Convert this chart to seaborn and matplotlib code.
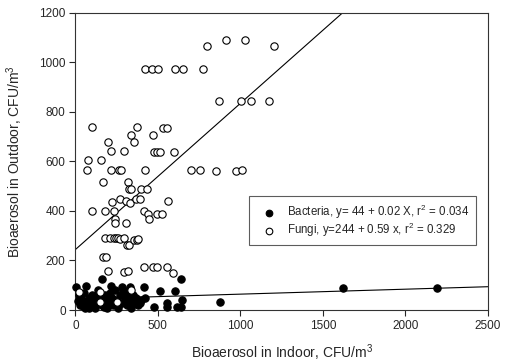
import numpy as np
import pandas as pd
import matplotlib
matplotlib.use('Agg')
import matplotlib.pyplot as plt
import seaborn as sns

# fungi points (indoor, outdoor)
fungi_x = [99, 79, 71, 155, 198, 218, 170, 99, 180, 234, 218, 264, 276, 293, 337,
           353, 371, 317, 325, 337, 268, 220, 309, 331, 367, 391, 397, 436, 420, 470,
           530, 553, 476, 496, 512, 599, 418, 442, 448, 492, 527, 559, 238, 240, 305,
           182, 210, 236, 246, 256, 270, 297, 313, 325, 355, 371, 377, 165, 184, 198,
           297, 317, 414, 470, 492, 553, 589, 422, 464, 498, 601, 652, 771, 797, 910,
           1029, 1203, 868, 1001, 1063, 1172, 700, 757, 854, 971, 1009, 24, 149, 337,
           149, 254]
fungi_y = [740, 607, 566, 607, 677, 643, 518, 401, 401, 401, 566, 566, 566, 643, 706,
           677, 740, 518, 488, 488, 448, 435, 440, 432, 448, 448, 488, 488, 566, 706,
           733, 733, 636, 636, 636, 636, 401, 387, 367, 387, 387, 440, 367, 350, 350,
           292, 292, 292, 292, 292, 287, 292, 264, 264, 281, 281, 288, 215, 215, 159,
           152, 159, 175, 175, 175, 175, 151, 973, 973, 973, 973, 973, 973, 1064, 1091,
           1091, 1064, 845, 845, 845, 845, 566, 566, 560, 560, 566, 74, 74, 81,
           34, 34]

# bacteria points
bact_x = [4, 65, 161, 218, 285, 331, 416, 515, 605, 638, 646, 615, 638, 553, 553,
          478, 424, 391, 874, 1620, 2193, 20, 30, 40, 50, 60, 70, 80, 90, 100,
          110, 120, 130, 140, 150, 160, 170, 180, 190, 200, 210, 220, 230, 240, 250,
          260, 270, 280, 290, 300, 310, 320, 330, 340, 350, 360, 370, 380, 400, 15,
          45, 85, 125, 175, 205, 265, 305, 345]
bact_y = [91, 97, 125, 97, 91, 91, 91, 78, 78, 125, 40, 13, 13, 27, 13,
          13, 50, 27, 34, 89, 89, 60, 20, 40, 70, 10, 30, 50, 20, 60,
          40, 10, 30, 80, 50, 20, 40, 60, 10, 30, 70, 50, 20, 80, 40,
          10, 60, 30, 80, 50, 20, 70, 40, 10, 60, 30, 50, 20, 40, 35,
          15, 8, 55, 12, 45, 25, 65, 35]

# regression coefficients from the legend
bact_fit = (44, 0.02)
fungi_fit = (244, 0.59)
bact_label = 'Bacteria, y= 44 + 0.02 X, r$^2$ = 0.034'
fungi_label = 'Fungi, y=244 + 0.59 x, r$^2$ = 0.329'

x_ticks = [0, 500, 1000, 1500, 2000, 2500]
y_ticks = [0, 200, 400, 600, 800, 1000, 1200]

sns.set_theme(style='ticks')
plt.rcParams['font.family'] = ['Liberation Sans', 'DejaVu Sans']
plt.rcParams['mathtext.fontset'] = 'custom'
plt.rcParams['mathtext.rm'] = 'Liberation Sans'
plt.rcParams['mathtext.it'] = 'Liberation Sans'
plt.rcParams['mathtext.default'] = 'regular'

fig, ax = plt.subplots(figsize=(5.06, 3.63), dpi=100)
fig.subplots_adjust(left=0.149, right=0.964, top=0.965, bottom=0.146)

df_b = pd.DataFrame({'x': bact_x, 'y': bact_y})
df_f = pd.DataFrame({'x': fungi_x, 'y': fungi_y})

sns.scatterplot(data=df_b, x='x', y='y', ax=ax, color='black', edgecolor='black',
                s=28, linewidth=0.8, label=bact_label, zorder=3, clip_on=False)
sns.scatterplot(data=df_f, x='x', y='y', ax=ax, color='white', edgecolor='black',
                s=28, linewidth=0.8, label=fungi_label, zorder=3, clip_on=False)

xx = np.array([0, 2500])
ax.plot(xx, bact_fit[0] + bact_fit[1] * xx, color='black', lw=0.8, zorder=2)
ax.plot(xx, fungi_fit[0] + fungi_fit[1] * xx, color='black', lw=0.8, zorder=2)

ax.set_xlim(0, 2500)
ax.set_ylim(0, 1200)
ax.set_xticks(x_ticks)
ax.set_yticks(y_ticks)
ax.tick_params(axis='both', labelsize=8.5, length=4, width=0.8, direction='out', pad=3)
for sp in ax.spines.values():
    sp.set_linewidth(0.8)
    sp.set_color('#333333')

ax.set_xlabel('Bioaerosol in Indoor, CFU/m$^3$', fontsize=10, labelpad=8)
ax.set_ylabel('Bioaerosol in Outdoor, CFU/m$^3$', fontsize=10, labelpad=10)

leg = ax.legend(loc='upper left', bbox_to_anchor=(0.421, 0.383), fontsize=8.3,
                frameon=True, fancybox=False, edgecolor='#333333',
                handletextpad=0.45, borderpad=0.55, labelspacing=0.0,
                handlelength=2.3, borderaxespad=0, markerscale=0.9)
leg.get_frame().set_linewidth(0.8)

fig.savefig('out.png', dpi=100)
